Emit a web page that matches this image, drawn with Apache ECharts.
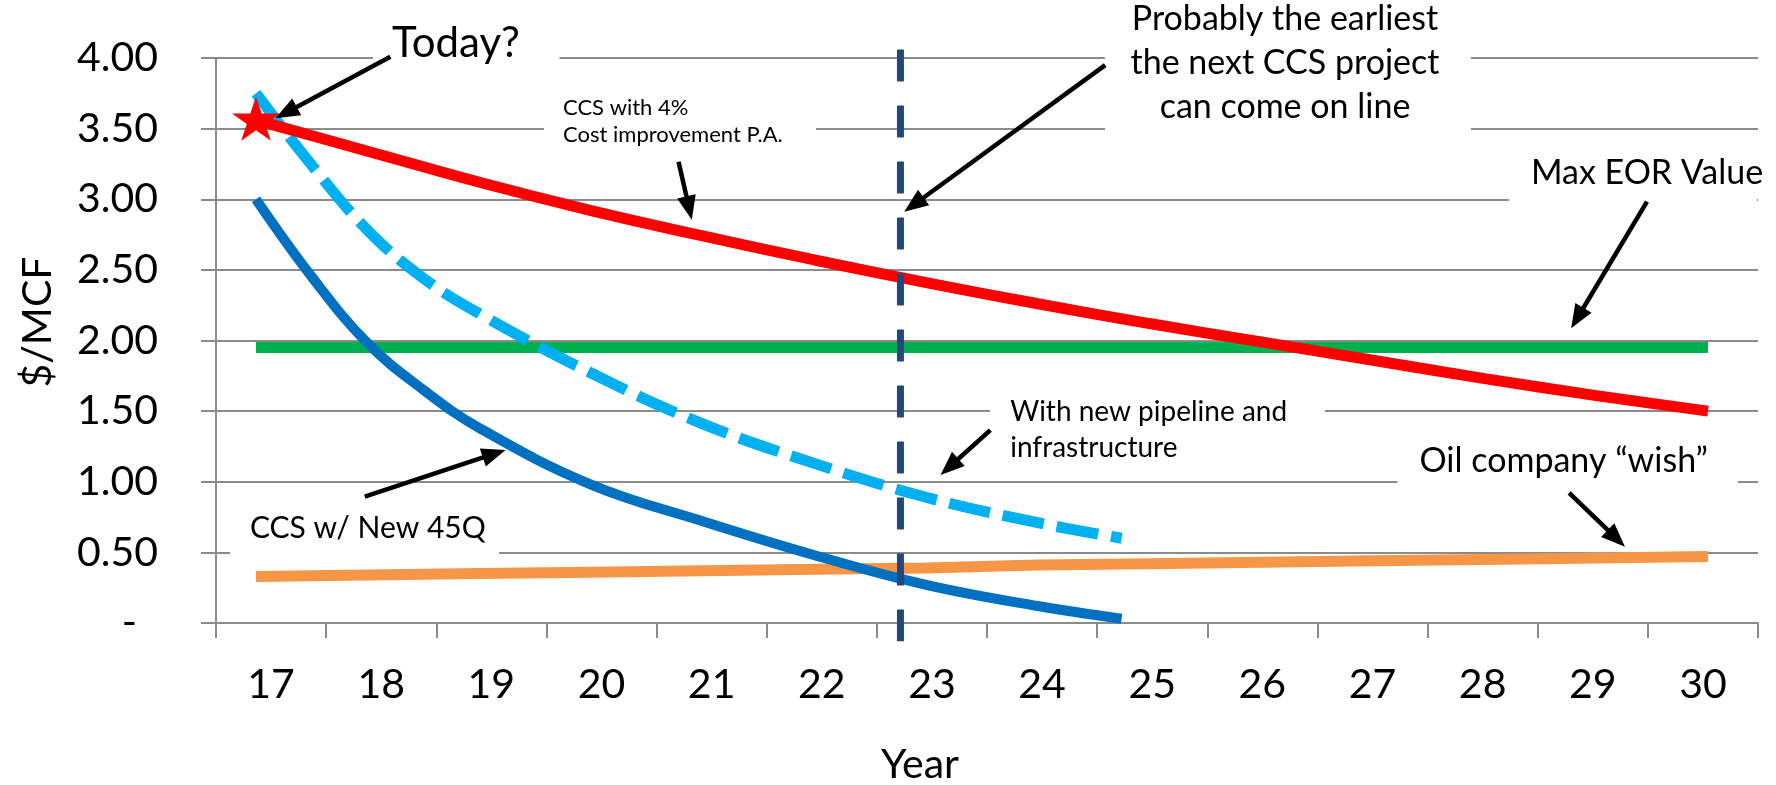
<!DOCTYPE html>
<html>
<head>
<meta charset="utf-8">
<script src="https://cdn.jsdelivr.net/npm/echarts@6/dist/echarts.min.js"></script>
<style>
html,body{margin:0;padding:0;background:#ffffff;}
#chart{width:1776px;height:785px;}
</style>
</head>
<body>
<div id="chart"></div>
<script>
// ---------- data ----------
const yearLabels = ['17','18','19','20','21','22','23','24','25','26','27','28','29','30'];
const fullYears = [17,18,19,20,21,22,23,24,25,26,27,28,29,30];
const ccsCostImprovement = [3.56,3.34,3.12,2.92,2.74,2.57,2.41,2.26,2.12,1.99,1.86,1.73,1.61,1.50];
const maxEorValue = [1.95,1.95,1.95,1.95,1.95,1.95,1.95,1.95,1.95,1.95,1.95,1.95,1.95,1.95];
const oilCompanyWish = [0.33,0.34,0.35,0.36,0.37,0.38,0.39,0.41,0.42,0.43,0.44,0.45,0.46,0.47];
const shortYears = [17,17.5,18,18.5,19,20,21,22,23,24,24.75];
const ccsNew45Q = [3.00,2.45,1.98,1.65,1.38,0.98,0.72,0.48,0.27,0.12,0.03];
const newPipeline = [3.75,3.24,2.78,2.44,2.19,1.77,1.41,1.13,0.89,0.71,0.60];
const todayPoint = [17, 3.57];
const onlineYear = 22.77;
const onlineSpan = [4.06, -0.13];

const pair = (xs, ys) => xs.map((x, i) => [x, ys[i]]);

// ---------- annotations (anchored in data units) ----------
const FONT = 'Lato, "Open Sans", sans-serif';
const texts = [
  {t: 'Today?', at: [18.218, 4.104], size: 42, lh: 42, align: 'left'},
  {t: 'CCS with 4%\nCost improvement P.A.', at: [19.749, 3.650], size: 22, lh: 27.7, align: 'left'},
  {t: 'Probably the earliest\nthe next CCS project\ncan come on line', at: [26.213, 4.275], size: 34, lh: 44, align: 'center'},
  {t: 'Max EOR Value', at: [28.415, 3.189], size: 34, lh: 34, align: 'left'},
  {t: 'With new pipeline and\ninfrastructure', at: [23.753, 1.496], size: 28, lh: 36.7, align: 'left'},
  {t: 'Oil company \u201cwish\u201d', at: [27.417, 1.145], size: 34, lh: 34, align: 'left'},
  {t: 'CCS w/ New 45Q', at: [16.946, 0.670], size: 30, lh: 30, align: 'left'}
];
const arrows = [
  [[18.203, 4.009], [17.175, 3.573]],
  [[20.783, 3.266], [20.902, 2.855]],
  [[24.603, 3.950], [22.804, 2.912]],
  [[29.454, 2.983], [28.775, 2.086]],
  [[23.575, 1.366], [23.129, 1.048]],
  [[28.757, 0.922], [29.257, 0.540]],
  [[17.974, 0.894], [19.235, 1.225]]
];
const masks = [
  [[18.048, 4.198], [19.717, 3.929]],
  [[19.579, 3.759], [22.014, 3.349]],
  [[24.601, 4.411], [27.878, 3.405]],
  [[28.218, 3.349], [30.438, 2.973]],
  [[23.572, 1.685], [26.571, 1.083]],
  [[27.220, 1.296], [30.269, 0.927]],
  [[16.767, 0.835], [19.176, 0.446]]
];

const GRID = '#8b8b8b';
const STAR = 'path://M50,0L61.8,36.2L100,36.2L69.1,58.8L80.9,95.1L50,72.6L19.1,95.1L30.9,58.8L0,36.2L38.2,36.2Z';

const chart = echarts.init(document.getElementById('chart'), null, {renderer: 'canvas'});

const option = {
  animation: false,
  backgroundColor: '#ffffff',
  grid: {left: 216, top: 58, width: 1542, height: 565, containLabel: false, outerBoundsMode: 'none'},
  xAxis: [
    {
      type: 'category', data: yearLabels, boundaryGap: true, position: 'bottom',
      axisLine: {show: true, lineStyle: {color: GRID, width: 2}},
      axisTick: {show: true, interval: 0, length: 15, lineStyle: {color: GRID, width: 2}},
      axisLabel: {interval: 0, margin: 41, color: '#000', fontFamily: FONT, fontSize: 41},
      splitLine: {show: false},
      name: 'Year', nameLocation: 'middle', nameGap: 121,
      nameTextStyle: {fontFamily: FONT, fontSize: 41, color: '#000', padding: [0, 134, 0, 0]}
    },
    {type: 'value', min: 16.642, max: 30.448, show: false, splitLine: {show: false}}
  ],
  yAxis: {
    type: 'value', min: 0, max: 4, interval: 0.5,
    axisLine: {show: true, lineStyle: {color: GRID, width: 2}},
    axisTick: {show: true, length: 15, lineStyle: {color: GRID, width: 2}},
    splitLine: {show: true, lineStyle: {color: GRID, width: 2}},
    axisLabel: {
      margin: 58, color: '#000', fontFamily: FONT, fontSize: 41,
      formatter: v => (v === 0 ? '{d|-}' : v.toFixed(2)),
      rich: {d: {padding: [0, 21, 0, 0], color: '#000', fontFamily: FONT, fontSize: 41}}
    },
    name: '$/MCF', nameLocation: 'middle', nameGap: 158,
    nameTextStyle: {fontFamily: FONT, fontSize: 41, color: '#000', padding: [0, 0, 0, 37]}
  },
  series: [
    {name: 'Max EOR Value', type: 'line', xAxisIndex: 1, data: pair(fullYears, maxEorValue),
     symbol: 'none', lineStyle: {color: '#00b050', width: 11, cap: 'butt'}, z: 2},
    {name: 'Oil company wish', type: 'line', xAxisIndex: 1, data: pair(fullYears, oilCompanyWish),
     symbol: 'none', lineStyle: {color: '#f79646', width: 11, cap: 'butt'}, z: 2},
    {name: 'CCS w/ New 45Q', type: 'line', xAxisIndex: 1, data: pair(shortYears, ccsNew45Q),
     symbol: 'none', smooth: 0.4, lineStyle: {color: '#0070c0', width: 10, cap: 'butt'}, z: 3},
    {name: 'With new pipeline and infrastructure', type: 'line', xAxisIndex: 1, data: pair(shortYears, newPipeline),
     symbol: 'none', smooth: 0.4, lineStyle: {color: '#00b0f0', width: 11, type: [42, 13], cap: 'butt'}, z: 3},
    {name: 'CCS with 4% cost improvement', type: 'line', xAxisIndex: 1, data: pair(fullYears, ccsCostImprovement),
     symbol: 'none', smooth: 0.3, lineStyle: {color: '#ff0000', width: 11, cap: 'butt'}, z: 4},
    {name: 'Earliest next CCS project', type: 'line', xAxisIndex: 1,
     data: [[onlineYear, onlineSpan[0]], [onlineYear, onlineSpan[1]]], clip: false,
     symbol: 'none', lineStyle: {color: '#1f497d', width: 7, type: [32, 24], cap: 'butt'}, z: 5},
    {name: 'Today', type: 'scatter', xAxisIndex: 1, data: [todayPoint], symbol: STAR,
     symbolSize: [48, 44], itemStyle: {color: '#ff0000', opacity: 1}, z: 6}
  ]
};
chart.setOption(option);

// ---------- annotation graphics ----------
function toPx(p) { return chart.convertToPixel({seriesIndex: 0}, p); }
const elements = [];
masks.forEach(m => {
  const a = toPx(m[0]), b = toPx(m[1]);
  elements.push({type: 'rect', z: 1, silent: true,
    shape: {x: a[0], y: a[1], width: b[0] - a[0], height: b[1] - a[1]},
    style: {fill: '#ffffff'}});
});
texts.forEach(t => {
  const p = toPx(t.at);
  elements.push({type: 'text', z: 100, x: p[0], y: p[1] - t.lh / 2,
    style: {text: t.t, fill: '#000', fontFamily: FONT, fontSize: t.size,
      lineHeight: t.lh, align: t.align, verticalAlign: 'top'}});
});
arrows.forEach(ar => {
  const a = toPx(ar[0]), b = toPx(ar[1]);
  const dx = b[0] - a[0], dy = b[1] - a[1], len = Math.hypot(dx, dy);
  const ux = dx / len, uy = dy / len, L = 24, W = 9.5;
  const bx = b[0] - ux * L, by = b[1] - uy * L;
  elements.push({type: 'line', z: 100,
    shape: {x1: a[0], y1: a[1], x2: bx + ux * 2, y2: by + uy * 2},
    style: {stroke: '#000', lineWidth: 4.5}});
  elements.push({type: 'polygon', z: 100,
    shape: {points: [[b[0], b[1]], [bx - uy * W, by + ux * W], [bx + uy * W, by - ux * W]]},
    style: {fill: '#000'}});
});
chart.setOption({graphic: {elements: elements}});
</script>
</body>
</html>
